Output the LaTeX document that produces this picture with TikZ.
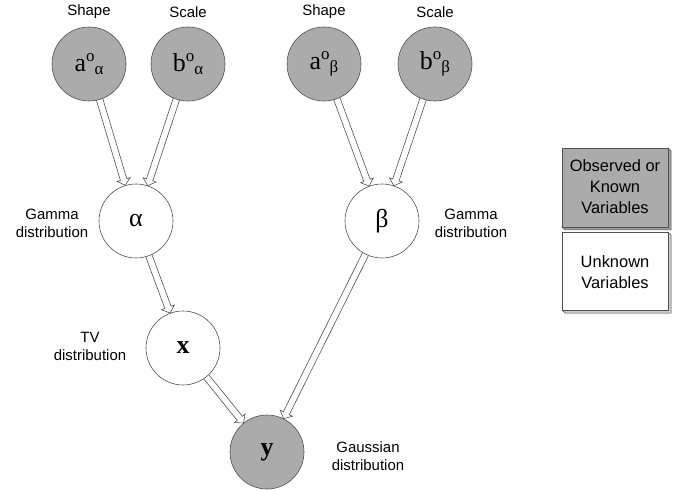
\documentclass[tikz,border=0pt]{standalone}
\usepackage{fontspec}
\setmainfont{Liberation Sans}
\newfontfamily\serif{Liberation Serif}
\usetikzlibrary{calc}
\definecolor{obsgray}{HTML}{ABABAB}
\definecolor{lnclr}{HTML}{505050}
\tikzset{
  var/.style={circle, draw=lnclr, line width=0.6bp, minimum size=74bp, inner sep=0pt,
    font=\serif\fontsize{26}{26}\selectfont},
  obs/.style={var, fill=obsgray},
  hid/.style={var, fill=white},
  lbl/.style={font=\fontsize{15}{18}\selectfont, align=center, inner sep=0pt},
  leg/.style={font=\fontsize{16.5}{21}\selectfont, align=center, inner sep=0pt},
  arr/.style={draw=lnclr, line width=0.6bp, line join=miter},
}
\newcommand{\sps}[2]{\raisebox{10bp}{\fontsize{17}{17}\selectfont #1}\raisebox{-3bp}{\fontsize{17}{17}\selectfont #2}}
\newcommand{\hollowarrow}[2]{%
  \coordinate (s) at ($(#1)!37bp!(#2)$);
  \coordinate (e) at ($(#2)!37.3bp!(#1)$);
  \coordinate (h) at ($(e)!6bp!(s)$);
  \draw[arr] ($(s)!3.3bp!90:(e)$) -- ($(h)!3.3bp!90:(e)$) -- ($(h)!6.8bp!90:(e)$) -- (e)
    -- ($(h)!6.8bp!-90:(e)$) -- ($(h)!3.3bp!-90:(e)$) -- ($(s)!3.3bp!-90:(e)$);
}
\begin{document}
\begin{tikzpicture}[x=1bp, y=-1bp]
\useasboundingbox (0,0) rectangle (684,491);
% variables
\node[obs] (aa) at (89,64) {a\sps{o}{α}};
\node[obs] (ba) at (188,64) {b\sps{o}{α}};
\node[obs] (ab) at (324,64) {a\sps{o}{β}};
\node[obs] (bb) at (435,64) {b\sps{o}{β}};
\node[hid] (al) at (136,221) {α};
\node[hid] (be) at (382,221) {β};
\node[hid] (x) at (183,348) {\bfseries x};
\node[obs] (y) at (267,452) {\bfseries y};
% labels
\node[lbl] (l1) at (89,12) {Shape};
\node[lbl] (l2) at (188,12) {Scale};
\node[lbl] (l3) at (324,12) {Shape};
\node[lbl] (l4) at (435,12) {Scale};
\node[lbl] (l5) at (52,223) {Gamma\\distribution};
\node[lbl] (l6) at (471,223) {Gamma\\distribution};
\node[lbl] (l7) at (90,346) {TV\\distribution};
\node[lbl] (l8) at (368,456) {Gaussian\\distribution};
% arrows
\hollowarrow{aa}{al}
\hollowarrow{ba}{al}
\hollowarrow{ab}{be}
\hollowarrow{bb}{be}
\hollowarrow{al}{x}
\hollowarrow{x}{y}
\hollowarrow{be}{y}
% legend
\fill[gray!75, draw=lnclr, line width=0.5bp] (562,227) -- (668,227) -- (668,148) -- (671,151) -- (671,230) -- (565,230) -- cycle;
\draw[fill=obsgray, draw=lnclr, line width=0.6bp] (562,148) rectangle (668,227);
\fill[gray!40, draw=lnclr, line width=0.5bp] (562,310) -- (668,310) -- (668,232) -- (671,235) -- (671,313) -- (565,313) -- cycle;
\draw[fill=white, draw=lnclr, line width=0.6bp] (562,232) rectangle (668,310);
\node[leg] (k1) at (615,187) {Observed or\\Known\\Variables};
\node[leg] (k2) at (615,272) {Unknown\\Variables};
\end{tikzpicture}
\end{document}
